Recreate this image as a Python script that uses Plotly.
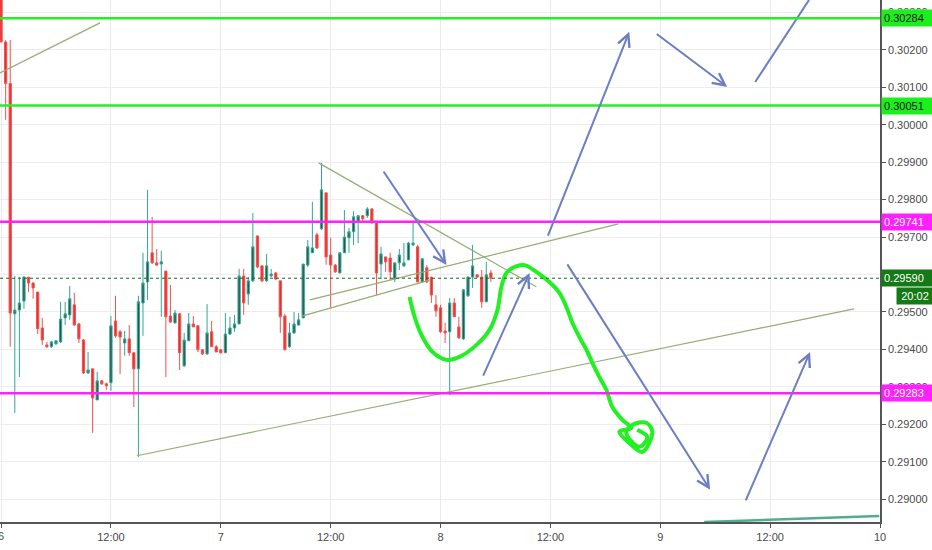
import pandas as pd
import plotly.graph_objects as go

# ---------------- data ----------------
start = "2019-06-06 00:00"
opens = [0.30420,0.30221,0.30110,0.29495,0.29505,0.29529,0.29593,0.29577,0.29553,0.29457,
         0.29412,0.29407,0.29415,0.29420,0.29484,0.29492,0.29519,0.29468,0.29425,0.29337,
         0.29348,0.29265,0.29316,0.29308,0.29311,0.29476,0.29447,0.29417,0.29428,0.29391,
         0.29348,0.29524,0.29580,0.29658,0.29631,0.29628,0.29609,0.29489,0.29471,0.29495,
         0.29356,0.29423,0.29468,0.29463,0.29399,0.29388,0.29447,0.29407,0.29399,0.29391,
         0.29441,0.29457,0.29468,0.29596,0.29548,0.29583,0.29703,0.29623,0.29583,0.29596,
         0.29604,0.29583,0.29489,0.29407,0.29444,0.29465,0.29484,0.29625,0.29658,0.29706,
         0.29722,0.29818,0.29652,0.29625,0.29604,0.29658,0.29698,0.29714,0.29740,0.29757,
         0.29757,0.29775,0.29738,0.29628,0.29647,0.29644,0.29588,0.29631,0.29623,0.29639,
         0.29679,0.29674,0.29580,0.29618,0.29593,0.29519,0.29511,0.29449,0.29447,0.29524,
         0.29460,0.29428,0.29543,0.29593,0.29599,0.29593,0.29527,0.29604]
highs = [0.30450,0.30226,0.30226,0.29596,0.29593,0.29596,0.29593,0.29580,0.29553,0.29484,
         0.29420,0.29423,0.29425,0.29527,0.29527,0.29569,0.29551,0.29471,0.29428,0.29393,
         0.29348,0.29340,0.29318,0.29311,0.29489,0.29543,0.29452,0.29449,0.29465,0.29391,
         0.29543,0.29658,0.29826,0.29754,0.29668,0.29663,0.29609,0.29572,0.29505,0.29497,
         0.29444,0.29497,0.29489,0.29463,0.29401,0.29521,0.29476,0.29412,0.29401,0.29497,
         0.29487,0.29492,0.29615,0.29615,0.29593,0.29764,0.29703,0.29623,0.29655,0.29615,
         0.29607,0.29583,0.29495,0.29471,0.29500,0.29497,0.29628,0.29692,0.29794,0.29711,
         0.29898,0.29818,0.29698,0.29628,0.29658,0.29772,0.29724,0.29769,0.29759,0.29759,
         0.29780,0.29777,0.29738,0.29674,0.29647,0.29658,0.29631,0.29668,0.29684,0.29687,
         0.29740,0.29679,0.29644,0.29625,0.29593,0.29545,0.29519,0.29471,0.29537,0.29537,
         0.29487,0.29561,0.29596,0.29679,0.29601,0.29612,0.29634,0.29612]
lows = [0.30221,0.30013,0.29407,0.29230,0.29326,0.29508,0.29553,0.29535,0.29441,0.29412,
        0.29404,0.29404,0.29412,0.29417,0.29465,0.29479,0.29463,0.29417,0.29334,0.29334,
        0.29177,0.29265,0.29305,0.29292,0.29289,0.29431,0.29334,0.29383,0.29383,0.29246,
        0.29113,0.29436,0.29532,0.29628,0.29623,0.29487,0.29326,0.29471,0.29468,0.29345,
        0.29353,0.29423,0.29460,0.29393,0.29385,0.29385,0.29407,0.29393,0.29388,0.29391,
        0.29439,0.29447,0.29468,0.29492,0.29519,0.29580,0.29617,0.29580,0.29580,0.29593,
        0.29585,0.29444,0.29399,0.29404,0.29441,0.29463,0.29484,0.29620,0.29658,0.29668,
        0.29719,0.29626,0.29511,0.29604,0.29604,0.29658,0.29658,0.29679,0.29684,0.29743,
        0.29751,0.29735,0.29545,0.29588,0.29607,0.29585,0.29580,0.29612,0.29620,0.29639,
        0.29676,0.29580,0.29577,0.29577,0.29524,0.29487,0.29444,0.29417,0.29278,0.29487,
        0.29428,0.29425,0.29540,0.29564,0.29591,0.29511,0.29527,0.29580]
closes = [0.30221,0.30110,0.29497,0.29505,0.29524,0.29593,0.29577,0.29564,0.29455,0.29425,
          0.29407,0.29420,0.29423,0.29481,0.29495,0.29535,0.29465,0.29428,0.29337,0.29345,
          0.29270,0.29316,0.29308,0.29303,0.29463,0.29436,0.29433,0.29428,0.29391,0.29348,
          0.29527,0.29577,0.29634,0.29631,0.29625,0.29634,0.29487,0.29473,0.29497,0.29391,
          0.29425,0.29468,0.29460,0.29399,0.29388,0.29444,0.29407,0.29393,0.29391,0.29441,
          0.29457,0.29468,0.29596,0.29524,0.29583,0.29674,0.29620,0.29583,0.29623,0.29601,
          0.29588,0.29487,0.29399,0.29444,0.29468,0.29479,0.29628,0.29674,0.29671,0.29671,
          0.29826,0.29647,0.29625,0.29607,0.29658,0.29700,0.29714,0.29754,0.29757,0.29749,
          0.29775,0.29738,0.29604,0.29655,0.29634,0.29607,0.29631,0.29652,0.29631,0.29684,
          0.29684,0.29580,0.29642,0.29580,0.29545,0.29503,0.29447,0.29444,0.29524,0.29487,
          0.29431,0.29559,0.29593,0.29623,0.29593,0.29527,0.29599,0.29590]

x_tick_vals = ["2019-06-06 00:00", "2019-06-06 12:00", "2019-06-07 00:00", "2019-06-07 12:00",
               "2019-06-08 00:00", "2019-06-08 12:00", "2019-06-09 00:00", "2019-06-09 12:00",
               "2019-06-10 00:00"]
x_tick_text = ["6", "12:00", "7", "12:00", "8", "12:00", "9", "12:00", "10"]
y_tick_vals = [0.29000, 0.29100, 0.29200, 0.29300, 0.29400, 0.29500, 0.29600,
               0.29700, 0.29800, 0.29900, 0.30000, 0.30100, 0.30200, 0.30300]

green_levels = [0.30284, 0.30051]
magenta_levels = [0.29741, 0.29283]
last_price = 0.29590
countdown = "20:02"

# trend lines: (t0, p0, t1, p1)
trend_lines = [
    ("2019-06-05 23:53", 0.30138, "2019-06-06 10:48", 0.30272),
    ("2019-06-07 10:41", 0.29898, "2019-06-08 10:28", 0.29567),
    ("2019-06-07 09:43", 0.29532, "2019-06-08 19:25", 0.29735),
    ("2019-06-07 08:50", 0.29489, "2019-06-07 22:48", 0.29585),
    ("2019-06-06 14:50", 0.29116, "2019-06-09 21:10", 0.29508),
]
teal_line = ("2019-06-09 04:48", 0.28939, "2019-06-09 23:55", 0.28955)

# arrows: (tail_t, tail_p, head_t, head_p)
arrows = [
    ("2019-06-07 17:40", 0.29879, "2019-06-08 00:39", 0.29625),
    ("2019-06-08 04:35", 0.29326, "2019-06-08 09:43", 0.29604),
    ("2019-06-08 11:40", 0.29700, "2019-06-08 20:37", 0.30248),
    ("2019-06-08 23:27", 0.30245, "2019-06-09 07:19", 0.30101),
    ("2019-06-08 13:45", 0.29631, "2019-06-09 05:27", 0.29025),
    ("2019-06-09 09:16", 0.28993, "2019-06-09 16:22", 0.29393),
]
open_arrow = ("2019-06-09 10:22", 0.30114, "2019-06-09 16:15", 0.30333)

curve_t = ["2019-06-07 20:37", "2019-06-07 21:10", "2019-06-07 22:02", "2019-06-07 23:08",
           "2019-06-08 00:39", "2019-06-08 02:04", "2019-06-08 03:56", "2019-06-08 05:21",
           "2019-06-08 06:13", "2019-06-08 06:39", "2019-06-08 07:12", "2019-06-08 08:04",
           "2019-06-08 09:10", "2019-06-08 10:28", "2019-06-08 11:53", "2019-06-08 12:59",
           "2019-06-08 13:45", "2019-06-08 14:24", "2019-06-08 15:10", "2019-06-08 15:56",
           "2019-06-08 16:35", "2019-06-08 17:21", "2019-06-08 18:07", "2019-06-08 18:46",
           "2019-06-08 19:51", "2019-06-08 20:50", "2019-06-08 19:32", "2019-06-08 20:37",
           "2019-06-08 22:02", "2019-06-08 23:08", "2019-06-08 22:28", "2019-06-08 20:57",
           "2019-06-08 20:17", "2019-06-08 21:43", "2019-06-08 22:35", "2019-06-08 21:29"]
curve_p = [0.29540, 0.29487, 0.29433, 0.29393, 0.29372, 0.29380, 0.29412, 0.29452,
           0.29505, 0.29567, 0.29604, 0.29620, 0.29625, 0.29607, 0.29580, 0.29551,
           0.29513, 0.29471, 0.29433, 0.29399, 0.29364, 0.29326, 0.29292, 0.29246,
           0.29212, 0.29190, 0.29180, 0.29150, 0.29126, 0.29180, 0.29204, 0.29198,
           0.29177, 0.29140, 0.29166, 0.29185]

# ---------------- figure ----------------
times = pd.date_range(start, periods=len(opens), freq="30min")

UP_LINE, UP_FILL = "#33a596", "#2a5749"
DN_LINE, DN_FILL = "#ef5350", "#e8312f"
TREND = "#93ad72"
ARROW = "#6c7ec4"
LIME = "#22f022"
MAGENTA = "#ff1fff"

fig = go.Figure()

fig.add_trace(go.Candlestick(
    x=times, open=opens, high=highs, low=lows, close=closes,
    increasing=dict(line=dict(color=UP_LINE, width=1), fillcolor=UP_FILL),
    decreasing=dict(line=dict(color=DN_LINE, width=1), fillcolor=DN_FILL),
    whiskerwidth=0, showlegend=False, hoverinfo="skip"))

for t0, p0, t1, p1 in trend_lines:
    fig.add_trace(go.Scatter(x=[t0, t1], y=[p0, p1], mode="lines",
                             line=dict(color=TREND, width=1.2),
                             showlegend=False, hoverinfo="skip"))

fig.add_trace(go.Scatter(x=[teal_line[0], teal_line[2]], y=[teal_line[1], teal_line[3]],
                         mode="lines", line=dict(color="#4fae8f", width=2.5),
                         showlegend=False, hoverinfo="skip", cliponaxis=False))

fig.add_trace(go.Scatter(x=[open_arrow[0], open_arrow[2]], y=[open_arrow[1], open_arrow[3]],
                         mode="lines", line=dict(color=ARROW, width=2),
                         showlegend=False, hoverinfo="skip"))

fig.add_trace(go.Scatter(x=curve_t, y=curve_p, mode="lines",
                         line=dict(color=LIME, width=4, shape="spline", smoothing=1.0),
                         showlegend=False, hoverinfo="skip"))

shapes = []
for lv in green_levels:
    shapes.append(dict(type="line", xref="paper", x0=0, x1=1, yref="y", y0=lv, y1=lv,
                       line=dict(color=LIME, width=2.5)))
for lv in magenta_levels:
    shapes.append(dict(type="line", xref="paper", x0=0, x1=1, yref="y", y0=lv, y1=lv,
                       line=dict(color=MAGENTA, width=2.5)))
shapes.append(dict(type="line", xref="paper", x0=0, x1=1, yref="y", y0=last_price, y1=last_price,
                   line=dict(color="#136b13", width=1, dash="dot")))

annotations = []
for t0, p0, t1, p1 in arrows:
    annotations.append(dict(x=t1, y=p1, ax=t0, ay=p0, xref="x", yref="y", axref="x", ayref="y",
                            text="", showarrow=True, arrowhead=5, arrowsize=1.2,
                            arrowwidth=2, arrowcolor=ARROW, standoff=0))

label_font = dict(family="Liberation Sans, Arial, sans-serif", size=11)
def price_label(val, bg, fg):
    return dict(x=1, xref="paper", xanchor="left", xshift=1, y=val, yref="y",
                text=f"{val:.5f}", showarrow=False, bgcolor=bg, borderpad=2,
                width=46, align="left", font=dict(color=fg, **label_font))

for lv in green_levels:
    annotations.append(price_label(lv, "#1cf01c", "#111111"))
for lv in magenta_levels:
    annotations.append(price_label(lv, "#ff1fff", "#ffffff"))
annotations.append(price_label(last_price, "#157a15", "#ffffff"))
annotations.append(dict(x=1, xref="paper", xanchor="left", xshift=16, y=last_price, yref="y",
                        yshift=-18, text=countdown, showarrow=False, bgcolor="#157a15",
                        borderpad=2, width=32, font=dict(color="#ffffff", **label_font)))
# first day label sits on the left edge (half cut off in the reference)
annotations.append(dict(x=x_tick_vals[0], xref="x", y=0, yref="paper", yanchor="top", yshift=-6,
                        text=x_tick_text[0], showarrow=False,
                        font=dict(family="Liberation Sans Narrow, Liberation Sans, sans-serif",
                                  size=11, color="#4a4a4a")))

fig.update_layout(
    width=932, height=550,
    margin=dict(l=0, r=52, t=0, b=28),
    paper_bgcolor="#ffffff", plot_bgcolor="#ffffff",
    shapes=shapes, annotations=annotations,
    font=dict(family="Liberation Sans, Arial, sans-serif", size=11, color="#4a4a4a"),
    xaxis=dict(type="date", range=["2019-06-05 23:53", "2019-06-10 00:00"],
               tickvals=x_tick_vals, ticktext=x_tick_text,
               rangeslider=dict(visible=False),
               showgrid=True, gridcolor="#e9e9ef", gridwidth=1,
               showline=True, linecolor="#555555", linewidth=1.5,
               ticks="outside", ticklen=4, tickcolor="#555555",
               tickfont=dict(family="Liberation Sans Narrow, Liberation Sans, sans-serif", size=11),
               zeroline=False, fixedrange=True),
    yaxis=dict(side="right", range=[0.28939, 0.30333],
               tickvals=y_tick_vals, tickformat=".5f",
               showgrid=True, gridcolor="#ececf1", gridwidth=1,
               showline=True, linecolor="#555555", linewidth=1.5,
               ticks="outside", ticklen=4, tickcolor="#555555",
               zeroline=False, fixedrange=True),
)

fig.write_html("out.html", config={"displayModeBar": False},
               post_script="document.body.style.margin='0px';document.body.style.overflow='hidden';")
